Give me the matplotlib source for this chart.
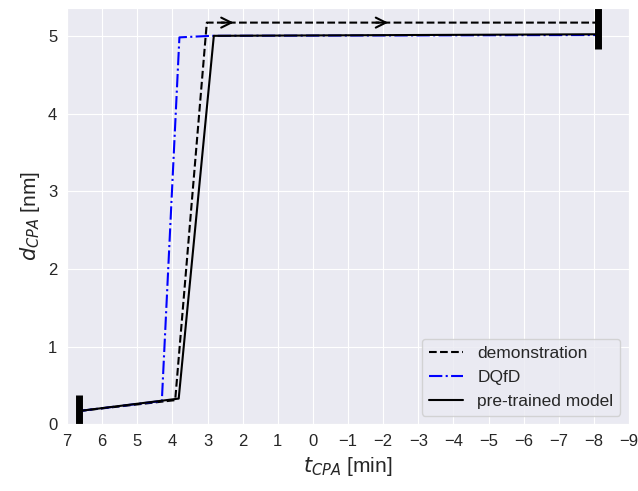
import numpy as np
import matplotlib
matplotlib.use("Agg")
import matplotlib.pyplot as plt
import seaborn as sns

sns.set_style("darkgrid")
plt.rcParams['font.family'] = ['Liberation Sans', 'DejaVu Sans']

# t_CPA [min] / d_CPA [nm]
demo_t = [6.66, 3.92, 3.02, -8.12]
demo_d = [0.17, 0.31, 5.17, 5.17]

dqfd_t = [6.66, 4.30, 3.80, 2.90, -8.12]
dqfd_d = [0.17, 0.30, 4.98, 5.00, 5.01]

pre_t = [6.66, 3.82, 2.82, -8.12]
pre_d = [0.17, 0.33, 5.00, 5.02]

# start / end markers (thick vertical bars)
start_bar_t = [6.66, 6.66]
start_bar_d = [0.0, 0.37]
end_bar_t = [-8.12, -8.12]
end_bar_d = [4.83, 5.36]

# arrow positions on demonstration line
arrow_t = [2.38, -2.02]
arrow_d = [5.17, 5.17]

fig = plt.figure(figsize=(6.38, 4.91), dpi=100)
ax = fig.add_axes([0.105, 0.136, 0.881, 0.848])

ax.plot(demo_t, demo_d, color='k', ls='--', lw=1.5, label='demonstration')
ax.plot(dqfd_t, dqfd_d, color='b', ls='-.', lw=1.5, label='DQfD')
ax.plot(pre_t, pre_d, color='k', ls='-', lw=1.5, label='pre-trained model')

ax.plot(start_bar_t, start_bar_d, color='k', lw=5, solid_capstyle='butt')
ax.plot(end_bar_t, end_bar_d, color='k', lw=5, solid_capstyle='butt')

for t, d in zip(arrow_t, arrow_d):
    ax.annotate('', xy=(t - 0.2, d), xytext=(t + 0.3, d),
                arrowprops=dict(arrowstyle='->', color='k', lw=1.5,
                                mutation_scale=18))

ax.set_xlim(7, -9)
ax.set_ylim(0, 5.36)
ax.set_xticks(np.arange(7, -10, -1))
ax.set_yticks([0, 1, 2, 3, 4, 5])
ax.tick_params(labelsize=12)
ax.set_xlabel(r'$t_{CPA}$ [min]', fontsize=15)
ax.set_ylabel(r'$d_{CPA}$ [nm]', fontsize=15)

ax.legend(loc='lower right', fontsize=12.5, frameon=True)

fig.savefig('out.png', dpi=100)
